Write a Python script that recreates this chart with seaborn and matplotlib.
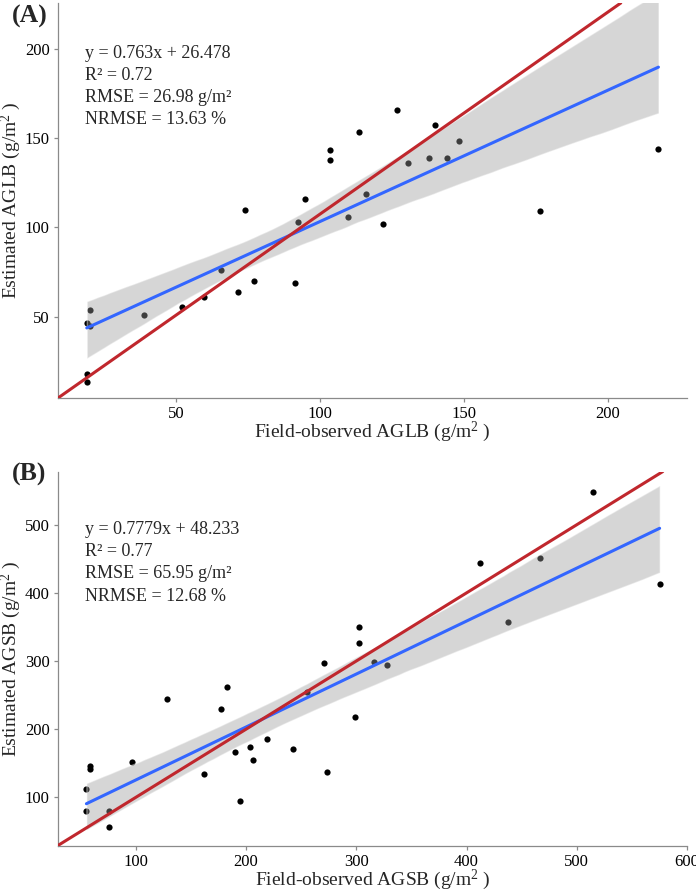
import matplotlib
matplotlib.use("Agg")
import matplotlib.pyplot as plt
import seaborn as sns
import pandas as pd

# ---- panel A: leaf biomass (AGLB) ----
aglb_obs = [19.0, 19.0, 19.2, 20.1, 20.1, 39.0, 52.1, 59.7, 65.6, 71.5,
            74.0, 77.2, 91.2, 92.5, 94.8, 103.5, 103.5, 109.8, 113.5, 115.9,
            121.9, 126.6, 130.7, 137.7, 140.0, 144.2, 148.2, 176.4, 217.5]
aglb_est = [17.9, 13.6, 46.6, 53.8, 45.0, 51.0, 55.3, 61.2, 76.0, 63.8,
            110.0, 70.0, 69.1, 102.9, 116.1, 143.4, 137.7, 106.1, 153.5, 118.6,
            101.8, 166.0, 136.3, 139.0, 157.3, 139.1, 148.5, 109.2, 143.8]
aglb_stats = ["y = 0.763x + 26.478", "R\u00b2 = 0.72",
              "RMSE = 26.98 g/m\u00b2", "NRMSE = 13.63 %"]
aglb_ref = (-5.8, 1.133)   # intercept, slope of the red reference line
aglb_xticks = [50, 100, 150, 200]
aglb_yticks = [50, 100, 150, 200]

# ---- panel B: stem biomass (AGSB) ----
agsb_obs = [55.1, 55.1, 58.8, 58.8, 75.7, 75.7, 96.3, 128.3, 161.4, 177.4,
            182.6, 189.5, 194.1, 203.1, 206.5, 218.6, 242.8, 255.5, 270.7, 273.7,
            302.4, 302.4, 298.8, 316.3, 328.2, 412.1, 437.5, 466.6, 514.7, 575.2]
agsb_est = [112.2, 79.9, 146.0, 142.0, 79.9, 56.4, 151.8, 244.3, 134.7, 229.2,
            262.4, 166.1, 94.1, 174.3, 154.3, 185.2, 171.4, 255.1, 297.2, 137.6,
            350.5, 327.0, 217.5, 298.7, 294.7, 443.6, 357.4, 451.4, 548.8, 413.2]
agsb_stats = ["y = 0.7779x + 48.233", "R\u00b2 = 0.77",
              "RMSE = 65.95 g/m\u00b2", "NRMSE = 12.68 %"]
agsb_ref = (0.0, 1.0)
agsb_xticks = [100, 200, 300, 400, 500, 600]
agsb_yticks = [100, 200, 300, 400, 500]

sns.set_style("ticks")
plt.rcParams["font.family"] = ["Liberation Serif", "DejaVu Serif"]
plt.rcParams["mathtext.fontset"] = "custom"
plt.rcParams["mathtext.rm"] = "Liberation Serif"
plt.rcParams["mathtext.it"] = "Liberation Serif:italic"

SPINE = "#8a8a8a"
BLUE = "#3366FF"
RED = "#C0272D"


def panel(ax, obs, est, stats, ref, xticks, yticks, xlim, ylim, name, text_y):
    df = pd.DataFrame({"obs": obs, "est": est})
    sns.regplot(data=df, x="obs", y="est", ax=ax, ci=95, n_boot=2000, seed=3,
                scatter_kws={"s": 20, "color": "black", "linewidths": 0, "alpha": 1},
                line_kws={"color": BLUE, "lw": 2.2})
    # ggplot-like grey confidence band over the points
    band = ax.collections[-1]
    band.set_facecolor("#999999")
    band.set_alpha(0.4)
    ax.axline((0, ref[0]), slope=ref[1], color=RED, lw=2.2, zorder=3)

    ax.set_xlim(*xlim)
    ax.set_ylim(*ylim)
    ax.set_xticks(xticks)
    ax.set_yticks(yticks)
    sns.despine(ax=ax)
    for s in ["left", "bottom"]:
        ax.spines[s].set_color(SPINE)
        ax.spines[s].set_linewidth(0.9)
    ax.tick_params(colors=SPINE, labelcolor="black", labelsize=12,
                   length=3, width=0.9, pad=3)

    h = ax.bbox.height
    w = ax.bbox.width
    ax.set_xlabel(f"Field-observed {name} (g/m$^2$ )", fontsize=14)
    ax.set_ylabel(f"Estimated {name} (g/m$^2$ )", fontsize=14)
    ax.xaxis.set_label_coords(0.5, -22 / h)
    ax.yaxis.set_label_coords(-35 / w, 0.5)

    step = 22.2 / h
    for i, line in enumerate(stats):
        ax.text(0.043, text_y - i * step, line, transform=ax.transAxes,
                fontsize=13, va="top", ha="left")


fig = plt.figure(figsize=(6.96, 8.91), dpi=100)
ax_a = fig.add_axes([0.0833, 0.5533, 0.9037, 0.4433])
ax_b = fig.add_axes([0.0833, 0.0508, 0.9037, 0.4199])

panel(ax_a, aglb_obs, aglb_est, aglb_stats, aglb_ref, aglb_xticks, aglb_yticks,
      (9.0, 227.4), (4.4, 225.8), "AGLB", 0.895)
panel(ax_b, agsb_obs, agsb_est, agsb_stats, agsb_ref, agsb_xticks, agsb_yticks,
      (29.3, 600), (28.9, 578), "AGSB", 0.868)

fig.text(0.017, 0.981, "(A)", fontsize=18.5, fontweight="bold", va="center", ha="left")
fig.text(0.017, 0.467, "(B)", fontsize=18.5, fontweight="bold", va="center", ha="left")

fig.savefig("out.png", dpi=100)
